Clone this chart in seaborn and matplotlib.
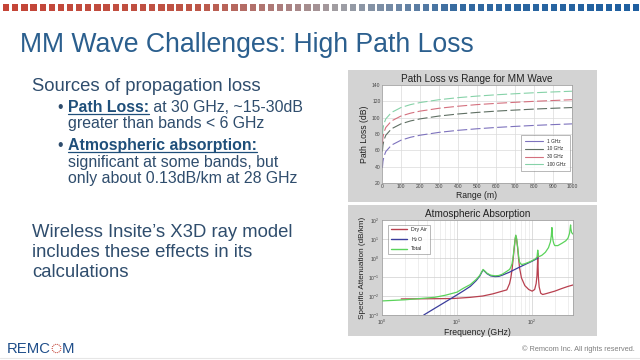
import numpy as np
import pandas as pd
import matplotlib
matplotlib.use("Agg")
import matplotlib.pyplot as plt
import seaborn as sns
from matplotlib.patches import Rectangle, Circle
from matplotlib.lines import Line2D

# ---------------- data ----------------
range_m = [2, 5, 10, 20, 50, 100, 150, 200, 300, 400, 500, 600, 700, 800, 900, 1000]
pl_1ghz = [38.5, 46.4, 52.4, 58.5, 66.4, 72.4, 76.0, 78.5, 82.0, 84.5, 86.4, 88.0, 89.3, 90.5, 91.5, 92.4]
pl_10ghz = [58.5, 66.4, 72.4, 78.5, 86.4, 92.4, 96.0, 98.5, 102.0, 104.5, 106.4, 108.0, 109.3, 110.5, 111.5, 112.4]
pl_30ghz = [68.0, 76.0, 82.0, 88.0, 96.0, 102.0, 105.5, 108.0, 111.5, 114.0, 116.0, 117.5, 118.8, 120.0, 121.0, 122.0]
pl_100ghz = [78.5, 86.4, 92.4, 98.5, 106.4, 112.4, 116.0, 118.5, 122.0, 124.5, 126.4, 128.0, 129.3, 130.5, 131.5, 132.4]
pl_labels = ["1 GHz", "10 GHz", "30 GHz", "100 GHz"]

dry_f = [1.8, 3, 5, 9, 15, 22, 30, 40, 46, 50, 52, 54, 56, 58, 59.5, 60.5, 62, 64, 66, 68, 72, 80, 90,
         100, 108, 113, 116, 118, 118.75, 119.5, 121, 124, 130, 138, 150, 200, 250, 300, 350]
dry_v = [7e-3, 7.1e-3, 7.2e-3, 7.4e-3, 8.5e-3, 0.010, 0.013, 0.018, 0.021, 0.045, 0.09, 0.25, 1.0, 4,
         10, 15, 10, 3.5, 0.9, 0.3, 0.09, 0.035, 0.022, 0.018, 0.022, 0.045, 0.12, 0.6, 1.8, 0.6, 0.1,
         0.03, 0.014, 0.012, 0.013, 0.018, 0.025, 0.032, 0.038]

h2o_f = [3.6, 5, 8.6, 12, 15, 18, 20, 21.5, 22.2, 23, 25, 28, 32, 36, 40, 50, 60, 70, 80, 100, 120]
h2o_v = [1e-3, 2.2e-3, 8e-3, 0.018, 0.032, 0.065, 0.11, 0.19, 0.23, 0.21, 0.15, 0.115, 0.105, 0.108,
         0.125, 0.18, 0.26, 0.35, 0.45, 0.68, 1.0]

tot_f = [1, 2, 3, 5, 7, 10, 12, 15, 18, 20, 21.5, 22.2, 23, 25, 28, 32, 36, 40, 46, 50, 52, 54, 56, 58,
         59.5, 60.5, 62, 64, 66, 68, 72, 80, 90, 100, 110, 116, 118.75, 121, 125, 135, 150, 165, 175,
         180, 183.3, 186, 190, 195, 200, 220, 250, 280, 300, 315, 322, 325, 328, 335, 350]
tot_v = [5.5e-3, 6.3e-3, 7.2e-3, 8.5e-3, 0.011, 0.016, 0.025, 0.04, 0.075, 0.12, 0.2, 0.25, 0.22, 0.16,
         0.125, 0.115, 0.12, 0.14, 0.2, 0.25, 0.33, 0.5, 1.3, 4.5, 11, 16, 11, 4, 1.3, 0.6, 0.45, 0.5,
         0.6, 0.72, 0.9, 1.1, 2.6, 1.3, 1.2, 1.4, 2.0, 3.5, 7, 15, 40, 15, 8, 5.5, 4.5, 4.5, 6, 8, 11,
         20, 40, 55, 35, 22, 18]
abs_labels = ["Dry Air", "H$_2$O", "Total"]

# ---------------- style ----------------
sns.set_style("white")
plt.rcParams['font.family'] = ['Liberation Sans', 'DejaVu Sans']
plt.rcParams['mathtext.fontset'] = 'custom'
plt.rcParams['mathtext.rm'] = 'Liberation Sans'

W, H = 640, 360
fig = plt.figure(figsize=(6.4, 3.6), dpi=100)
fig.patch.set_facecolor('white')


def fx(px):
    return px / W


def fy(py):
    return 1 - py / H


def T(x, y, s, **kw):
    kw.setdefault('va', 'baseline')
    return fig.text(fx(x), fy(y), s, **kw)


# ---------------- header squares ----------------
stops = [(0.0, (196, 68, 55)), (0.3, (190, 85, 70)), (0.45, (170, 130, 130)), (0.53, (160, 160, 165)),
         (0.62, (110, 135, 165)), (0.72, (50, 105, 160)), (1.0, (30, 95, 160))]


def grad(t):
    for (t0, c0), (t1, c1) in zip(stops[:-1], stops[1:]):
        if t0 <= t <= t1:
            a = (t - t0) / (t1 - t0)
            return tuple((c0[i] + a * (c1[i] - c0[i])) / 255 for i in range(3))
    return tuple(v / 255 for v in stops[-1][1])


n_sq = 70
pitch = 9.13
for i in range(n_sq):
    x0 = 3 + i * pitch
    fig.patches.append(Rectangle((fx(x0), fy(10.5)), 6.3 / W, 6.3 / H, transform=fig.transFigure,
                                 facecolor=grad(i / (n_sq - 1)), edgecolor='none', zorder=-5))

# ---------------- title ----------------
T(20, 52, "MM Wave Challenges: High Path Loss", fontsize=19.2, color='#2b5f8e')

# ---------------- left text ----------------
body_col = '#2f4d6d'
head_col = '#1f4f7a'
big_fs = 13.3
T(32, 91, "Sources of propagation loss", fontsize=big_fs, color=body_col)
T(32, 237, "Wireless Insite\u2019s X3D ray model", fontsize=big_fs, color=body_col)
T(32, 257, "includes these effects in its", fontsize=big_fs, color=body_col)
T(32, 277, "calculations", fontsize=big_fs, color=body_col)

bfs = 11.4
fig.canvas.draw()
renderer = fig.canvas.get_renderer()


def header_line(y, head, rest):
    T(57, y, "\u2022", fontsize=bfs, color=body_col)
    h = T(68, y, head, fontsize=bfs, color=head_col, fontweight='bold')
    bb = h.get_window_extent(renderer=renderer)
    x1 = bb.x1 * W / fig.bbox.width
    fig.lines.append(Line2D([fx(68), fx(x1)], [fy(y + 1.8), fy(y + 1.8)], transform=fig.transFigure,
                            color=head_col, lw=0.9))
    if rest:
        T(x1, y, rest, fontsize=bfs, color=body_col)


header_line(112, "Path Loss:", " at 30 GHz, ~15-30dB")
T(68, 128, "greater than bands < 6 GHz", fontsize=bfs, color=body_col)
header_line(150, "Atmospheric absorption:", "")
T(68, 167, "significant at some bands, but", fontsize=bfs, color=body_col)
T(68, 183, "only about 0.13dB/km at 28 GHz", fontsize=bfs, color=body_col)

# ---------------- panels ----------------
panel_col = '#d3d3d3'
fig.patches.append(Rectangle((fx(348), fy(202)), 249 / W, 132 / H, transform=fig.transFigure,
                             facecolor=panel_col, edgecolor='none', zorder=-5))
fig.patches.append(Rectangle((fx(348), fy(336)), 249 / W, 131 / H, transform=fig.transFigure,
                             facecolor=panel_col, edgecolor='none', zorder=-5))

tick_fs = 3.6
lab_fs = 6.2
tit_fs = 7.2

# --- top: path loss ---
ax1 = fig.add_axes([fx(382), fy(183), 190 / W, 98 / H])
ax1.set_facecolor('white')
pl_df = pd.DataFrame({
    'Range': range_m * 4,
    'PL': pl_1ghz + pl_10ghz + pl_30ghz + pl_100ghz,
    'Freq': sum([[lab] * len(range_m) for lab in pl_labels], []),
})
pl_colors = {"1 GHz": '#7d72bd', "10 GHz": '#5f6f63', "30 GHz": '#d4707e', "100 GHz": '#86d2a8'}
sns.lineplot(data=pl_df, x='Range', y='PL', hue='Freq', palette=pl_colors, ax=ax1, lw=0.8,
             legend=False, hue_order=pl_labels)
for ln in ax1.lines:
    ln.set_dashes((9, 3))
ax1.set_xlim(0, 1000)
ax1.set_ylim(20, 140)
ax1.set_xticks(np.arange(0, 1001, 100))
ax1.set_yticks(np.arange(20, 141, 20))
ax1.grid(True, color='#dadada', lw=0.5)
ax1.tick_params(labelsize=tick_fs, length=1.5, width=0.4, pad=1, direction='in', colors='#444444')
ax1.set_xlabel("Range (m)", fontsize=lab_fs, labelpad=1, color='#222222')
ax1.set_ylabel("Path Loss (dB)", fontsize=lab_fs, labelpad=2, color='#222222')
ax1.set_title("Path Loss vs Range for MM Wave", fontsize=tit_fs, pad=2.5, color='#222222')
for sp in ax1.spines.values():
    sp.set_color('#9a9a9a')
    sp.set_linewidth(0.5)
handles = [Line2D([], [], color=pl_colors[l], lw=0.8) for l in pl_labels]
leg1 = ax1.legend(handles, pl_labels, loc='lower right', fontsize=3.4, frameon=True, fancybox=False,
                  edgecolor='#666666', handlelength=4, borderpad=0.8, labelspacing=0.6,
                  bbox_to_anchor=(1.0, 0.1))
leg1.get_frame().set_linewidth(0.4)

# --- bottom: atmospheric absorption ---
ax2 = fig.add_axes([fx(382), fy(315), 191 / W, 95 / H])
ax2.set_facecolor('white')
abs_df = pd.DataFrame({
    'f': dry_f + h2o_f + tot_f,
    'a': dry_v + h2o_v + tot_v,
    'kind': ["Dry Air"] * len(dry_f) + ["H$_2$O"] * len(h2o_f) + ["Total"] * len(tot_f),
})
abs_colors = {"Dry Air": '#b8404f', "H$_2$O": '#3b3d9c', "Total": '#5bd35b'}
sns.lineplot(data=abs_df, x='f', y='a', hue='kind', palette=abs_colors, ax=ax2, lw=0.9,
             legend=False, hue_order=abs_labels, sort=True)
ax2.set_xscale('log')
ax2.set_yscale('log')
ax2.set_xlim(1, 350)
ax2.set_ylim(1e-3, 1e2)
ax2.grid(True, which='major', color='#cfcfcf', lw=0.5)
ax2.grid(True, which='minor', axis='x', color='#e2e2e2', lw=0.4)
ax2.tick_params(which='both', labelsize=tick_fs, length=1.5, width=0.4, pad=1, direction='in',
                colors='#444444')
ax2.tick_params(axis='x', which='both', pad=2.2)
ax2.tick_params(axis='y', which='both', pad=1.8)
ax2.tick_params(which='minor', length=1)
ax2.set_xlabel("Frequency (GHz)", fontsize=lab_fs, labelpad=0.5, color='#222222')
ax2.set_ylabel("Specific Attenuation (dB/km)", fontsize=lab_fs - 0.3, labelpad=1.5, color='#222222')
ax2.set_title("Atmospheric Absorption", fontsize=tit_fs, pad=2.5, color='#222222')
for sp in ax2.spines.values():
    sp.set_color('#9a9a9a')
    sp.set_linewidth(0.5)
handles2 = [Line2D([], [], color=abs_colors[l], lw=1.0) for l in abs_labels]
leg2 = ax2.legend(handles2, abs_labels, loc='upper left', fontsize=3.8, frameon=True, fancybox=False,
                  edgecolor='#666666', handlelength=3, borderpad=0.5, labelspacing=0.5,
                  bbox_to_anchor=(0.02, 0.98))
leg2.get_frame().set_linewidth(0.4)

# ---------------- footer ----------------
logo_col = '#1f4e8a'
T(7, 353, "REMC", fontsize=10.7, color=logo_col)
T(62, 353, "M", fontsize=10.7, color=logo_col)
cx, cy, r = 56.5, 348.5, 4.3
for k in range(14):
    ang = 2 * np.pi * k / 14
    fig.patches.append(Circle((fx(cx + r * np.cos(ang)), fy(cy + r * np.sin(ang))), 0.0012,
                              transform=fig.transFigure, facecolor='#c0392b', edgecolor='none'))
T(635, 351, "\u00a9 Remcom Inc. All rights reserved.", fontsize=5.3, color='#7f7f7f', ha='right')
fig.lines.append(Line2D([0, 1], [fy(358), fy(358)], transform=fig.transFigure, color='#e6e6e6', lw=0.8))

fig.savefig("out.png", dpi=100)
